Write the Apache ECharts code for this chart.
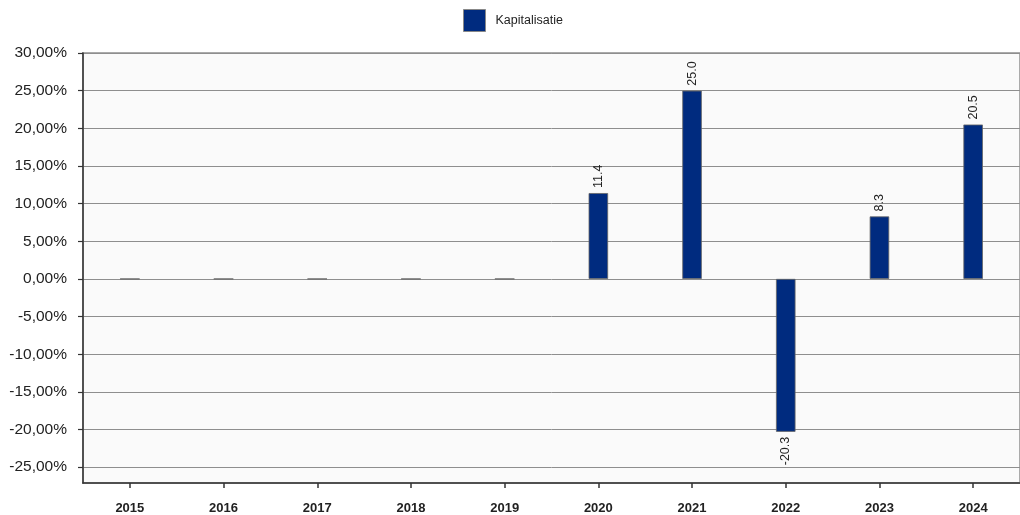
<!DOCTYPE html>
<html>
<head>
<meta charset="utf-8">
<script src="https://cdn.jsdelivr.net/npm/echarts@6/dist/echarts.min.js"></script>
<style>
html,body{margin:0;padding:0;background:#fff;}
#chart{width:1020px;height:515px;}
</style>
</head>
<body>
<div id="chart"></div>
<script>
const categories = ['2015','2016','2017','2018','2019','2020','2021','2022','2023','2024'];
const kapitalisatie = [0, 0, 0, 0, 0, 11.4, 25.0, -20.3, 8.3, 20.5];
const yTicks = [-25, -20, -15, -10, -5, 0, 5, 10, 15, 20, 25, 30];
const seriesName = 'Kapitalisatie';

const sans = "'Liberation Sans', Arial, sans-serif";
const chart = echarts.init(document.getElementById('chart'));
chart.setOption({
  animation: false,
  backgroundColor: '#ffffff',
  legend: {
    data: [seriesName],
    left: 463, top: 9, padding: 0,
    itemWidth: 22, itemHeight: 22,
    icon: 'rect',
    itemStyle: { borderColor: '#888', borderWidth: 1 },
    textStyle: { fontFamily: sans, fontSize: 12.5, color: '#222', padding: [0, 0, 0, 5] }
  },
  grid: {
    left: 83, right: -8, top: 53, bottom: 32,
    show: true, backgroundColor: '#fafafa', borderColor: '#aaa', borderWidth: 2
  },
  xAxis: {
    type: 'category',
    data: categories,
    axisLine: { show: true, onZero: false, lineStyle: { color: '#333', width: 1.5 } },
    axisTick: { show: true, alignWithLabel: true, length: 5, lineStyle: { color: '#333', width: 1.5 } },
    axisLabel: { fontFamily: sans, fontSize: 13, fontWeight: 'bold', color: '#222', margin: 19 },
    splitLine: { show: false }
  },
  yAxis: {
    type: 'value',
    min: -27.1, max: 30,
    axisLine: { show: true, lineStyle: { color: '#333', width: 1.5 } },
    axisTick: { show: true, length: 5, customValues: yTicks, lineStyle: { color: '#333', width: 1.2 } },
    axisLabel: {
      fontFamily: sans, fontSize: 15.5, color: '#222', margin: 16,
      customValues: yTicks,
      formatter: function (v) { return v.toFixed(2).replace('.', ',') + '%'; }
    },
    splitLine: { show: true, lineStyle: { color: '#8e8e8e', width: 1 } }
  },
  series: [{
    name: seriesName,
    type: 'bar',
    data: kapitalisatie.map(function (v) {
      return {
        value: v,
        label: v < 0 ? { position: 'bottom', align: 'right' } : { position: 'top', align: 'left' }
      };
    }),
    barWidth: 19.5,
    itemStyle: { color: '#002b7f', borderColor: '#666', borderWidth: 0.8 },
    label: {
      show: true,
      rotate: 90,
      verticalAlign: 'middle',
      distance: 5,
      fontFamily: sans, fontSize: 12.5, color: '#222',
      formatter: function (p) { return p.value === 0 ? '' : p.value.toFixed(1); }
    }
  }]
});
</script>
</body>
</html>
